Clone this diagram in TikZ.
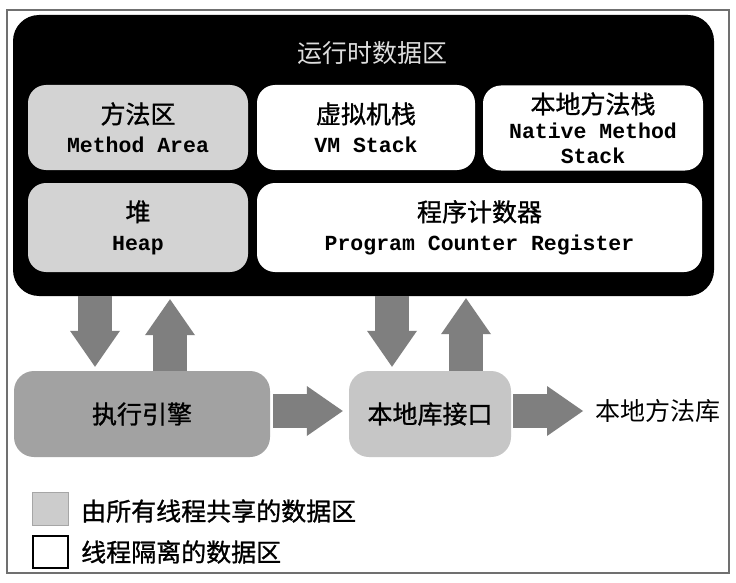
\documentclass[tikz,border=0pt]{standalone}
\usepackage{fontspec}
\newfontfamily\cjkfont{Noto Sans CJK SC}
\newfontfamily\cjkmed[FakeBold=1]{Noto Sans CJK SC}
\newfontfamily\monofont{Liberation Mono}
\usetikzlibrary{arrows.meta}
\definecolor{framegray}{HTML}{707070}
\definecolor{shgray}{HTML}{D3D3D3}
\definecolor{execgray}{HTML}{A2A2A2}
\definecolor{jnigray}{HTML}{C6C6C6}
\definecolor{arrowgray}{HTML}{7F7F7F}
\definecolor{titlegray}{HTML}{DDDDDD}
\definecolor{leggray}{HTML}{CCCCCC}
\newcommand\zhb{\cjkmed\fontsize{25}{29}\selectfont}
\newcommand\enm{\monofont\bfseries\fontsize{21.5}{29}\selectfont}
\begin{document}
\begin{tikzpicture}[x=1pt,y=-1pt,
  box/.style={rounded corners=18pt, inner sep=0pt, align=center, font=\fontsize{21.5}{29}\selectfont},
  sharedbox/.style={box, fill=shgray},
  privbox/.style={box, fill=white},
  bigarrow/.style={draw=arrowgray, line width=34pt,
    -{Triangle[width=50pt,length=36pt,line width=0pt]}}]
\useasboundingbox (0,0) rectangle (736,583);
\fill[white] (0,0) rectangle (736,583);
\node[draw=framegray, line width=1.5pt, minimum width=722pt, minimum height=563pt, inner sep=0pt] (frame) at (368,291.5) {};
\node[fill=black, rounded corners=26pt, minimum width=701pt, minimum height=281pt, inner sep=0pt] (rda) at (363.5,155.5) {};
\node[text=titlegray, font=\cjkfont\fontsize{25}{28}\selectfont] (title) at (372,53) {运行时数据区};
\node[sharedbox, minimum width=220pt, minimum height=85pt] (ma) at (138,127.5) {{\zhb 方法区}\\{\enm Method Area}};
\node[privbox, minimum width=218pt, minimum height=85pt] (vm) at (366,127.5) {{\zhb 虚拟机栈}\\{\enm VM Stack}};
\node[privbox, minimum width=220pt, minimum height=85pt, font=\fontsize{21.5}{25}\selectfont] (nm) at (593,128) {{\zhb 本地方法栈}\\{\enm Native Method}\\{\enm Stack}};
\node[sharedbox, minimum width=220pt, minimum height=89pt] (heap) at (138,227.5) {{\zhb 堆}\\{\enm Heap}};
\node[privbox, minimum width=445pt, minimum height=89pt] (pc) at (479.5,227.5) {{\zhb 程序计数器}\\{\enm Program Counter Register}};
\node[box, rounded corners=20pt, fill=execgray, minimum width=256pt, minimum height=86pt] (exec) at (142,414) {\zhb 执行引擎};
\node[box, rounded corners=20pt, fill=jnigray, minimum width=162pt, minimum height=86pt] (jni) at (430,414) {\zhb 本地库接口};
\node[anchor=west, inner sep=0pt] (lib) at (595,411) {\cjkfont\fontsize{25}{29}\selectfont 本地方法库};
\coordinate (c1) at (95,0);
\coordinate (c2) at (170,0);
\coordinate (c3) at (392,0);
\coordinate (c4) at (466,0);
\coordinate (r) at (0,411);
\draw[bigarrow, shorten >=4pt] (rda.south -| c1) -- (exec.north -| c1);
\draw[bigarrow, shorten >=3pt] (exec.north -| c2) -- (rda.south -| c2);
\draw[bigarrow, shorten >=4pt] (rda.south -| c3) -- (jni.north -| c3);
\draw[bigarrow, shorten >=2pt] (jni.north -| c4) -- (rda.south -| c4);
\draw[bigarrow, shorten <=3pt, shorten >=6pt] (exec.east |- r) -- (jni.west |- r);
\draw[bigarrow, shorten <=2pt, shorten >=12pt] (jni.east |- r) -- (lib.west |- r);
\node[fill=leggray, draw=gray!70, line width=1pt, minimum width=36pt, minimum height=33pt, inner sep=0pt] (lg1) at (50.5,509) {};
\node[fill=white, draw=black, line width=2pt, minimum width=35pt, minimum height=32pt, inner sep=0pt] (lg2) at (50.5,552) {};
\node[anchor=west, inner sep=0pt] (lt1) at (81,511) {\zhb 由所有线程共享的数据区};
\node[anchor=west, inner sep=0pt] (lt2) at (81,552) {\zhb 线程隔离的数据区};
\end{tikzpicture}
\end{document}
